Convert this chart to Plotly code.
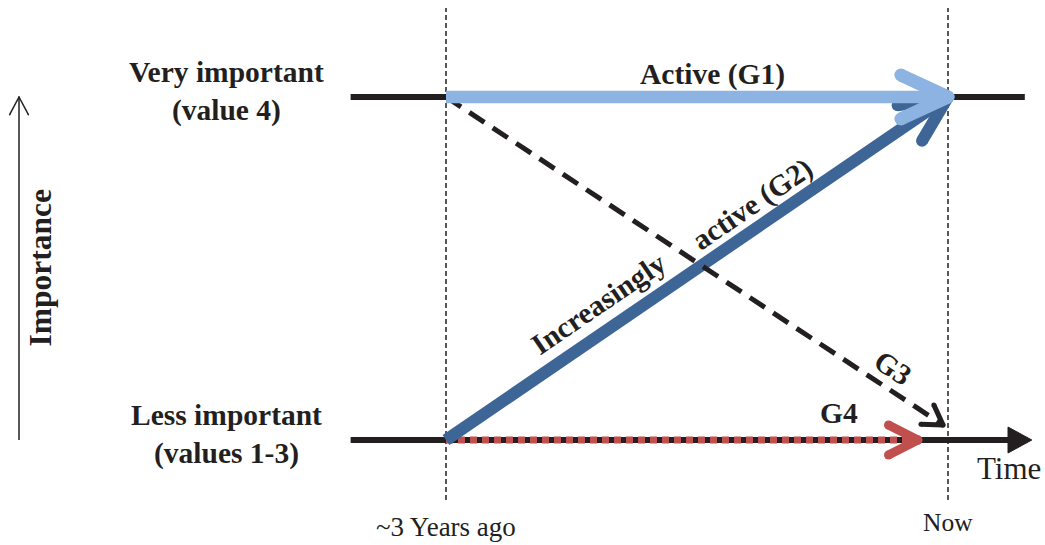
import math
import plotly.graph_objects as go

# ---------------- data ----------------
time_labels = ["~3 Years ago", "Now"]
time_values = [0, 1]
level_labels = ["Very important<br>(value 4)", "Less important<br>(values 1-3)"]
level_values = [1, 0]
group_names = ["G1", "G2", "G3", "G4"]
group_start_level = [1, 0, 1, 0]        # importance ~3 years ago
group_end_level = [1, 1, 0.044, 0]      # importance now
group_end_time = [1, 1, 0.99, 0.94]
axis_start = -0.19
axis_end = 1.167
top_line_end = 1.153

# ---------------- styles ----------------
W, H = 1045, 545
PX0, PX1 = 446, 948      # pixel x of time 0 / 1
PY0, PY1 = 440, 97       # pixel y of level 0 / 1
SX, SY = PX1 - PX0, PY0 - PY1
BLACK = "#231F20"
C_G1 = "#8DB3E2"
C_G2 = "#3D6596"
C_G4 = "#C0504D"
SERIF = "Liberation Serif, Times New Roman, serif"


def to_px(x, y):
    return PX0 + x * SX, PY0 - y * SY


def from_px(px, py):
    return (px - PX0) / SX, (PY0 - py) / SY


def chevron(tip, tail, length, half_angle_deg):
    """Return (xs, ys) of two arm segments of an open arrowhead at tip."""
    tx, ty = to_px(*tip)
    bx, by = to_px(*tail)
    ang = math.atan2(by - ty, bx - tx)
    xs, ys = [], []
    for s in (1, -1):
        a = ang + s * math.radians(half_angle_deg)
        ex, ey = tx + length * math.cos(a), ty + length * math.sin(a)
        dx0, dy0 = from_px(ex, ey)
        xs += [dx0, tip[0], None]
        ys += [dy0, tip[1], None]
    return xs, ys


fig = go.Figure()


def add_line(xs, ys, color, width, dash="solid"):
    fig.add_trace(go.Scatter(x=xs, y=ys, mode="lines",
                             line=dict(color=color, width=width, dash=dash),
                             hoverinfo="skip", showlegend=False))


def add_chevron(tip, tail, color, width, length, half):
    xs, ys = chevron(tip, tail, length, half)
    add_line(xs, ys, color, width)
    mx = [v for v in xs if v is not None]
    my = [v for v in ys if v is not None]
    fig.add_trace(go.Scatter(x=mx, y=my, mode="markers",
                             marker=dict(color=color, size=width, line=dict(width=0)),
                             hoverinfo="skip", showlegend=False))


# vertical dashed time markers
ytop = from_px(0, 8)[1]
ybot = from_px(0, 500)[1]
for t in time_values:
    add_line([t, t], [ybot, ytop], BLACK, 1.5, "5px,3px")

# level lines
add_line([axis_start, time_values[0]], [level_values[0]] * 2, BLACK, 6)
add_line([time_values[1], top_line_end], [level_values[0]] * 2, BLACK, 6)
arrow_base = from_px(1008, 0)[0]
add_line([axis_start, arrow_base], [level_values[1]] * 2, BLACK, 6)
# time arrowhead (filled)
tipx = axis_end
hb = 13 / SY
fig.add_trace(go.Scatter(x=[arrow_base, tipx, arrow_base, arrow_base],
                         y=[hb, 0, -hb, hb], mode="lines", fill="toself",
                         fillcolor=BLACK, line=dict(color=BLACK, width=1),
                         hoverinfo="skip", showlegend=False))

# G4 red dotted
add_line([time_values[0], group_end_time[3]], [group_start_level[3], group_end_level[3]], C_G4, 7, "7px,5px")
add_chevron((group_end_time[3], group_end_level[3]), (0, group_start_level[3]), C_G4, 9, 33, 27)

# G2 dark blue
add_line([time_values[0], group_end_time[1]], [group_start_level[1], group_end_level[1]], C_G2, 12)
add_chevron((group_end_time[1], group_end_level[1]), (0, group_start_level[1]), C_G2, 12, 51, 25)

# G3 dashed black
add_line([time_values[0], group_end_time[2]], [group_start_level[2], group_end_level[2]], BLACK, 5, "18px,10px")
add_chevron((group_end_time[2], group_end_level[2]), (0, group_start_level[2]), BLACK, 5, 22, 32)

# G1 light blue
add_line([time_values[0], group_end_time[0]], [group_start_level[0], group_end_level[0]], C_G1, 12.5)
add_chevron((group_end_time[0], group_end_level[0]), (0, group_start_level[0]), C_G1, 13, 52, 25)

# importance arrow (thin)
ix = from_px(19, 0)[0]
add_line([ix, ix], [level_values[1], level_values[0]], BLACK, 1.5)
add_chevron((ix, level_values[0]), (ix, level_values[1]), BLACK, 1.5, 20, 28)

# ---------------- text ----------------
BF = 29.5
ann = []
lab_x = from_px(226, 0)[0]
for lab, lv in zip(level_labels, level_values):
    ann.append(dict(x=lab_x, y=lv + 5.5 / SY, text="<b>" + lab + "</b>", showarrow=False,
                    font=dict(size=BF, color=BLACK, family=SERIF), xanchor="center",
                    yanchor="middle", align="center"))
ann.append(dict(x=from_px(40, 0)[0], y=0.5, text="<b>Importance</b>", textangle=-90,
                showarrow=False, font=dict(size=31.5, color=BLACK, family=SERIF)))

g2_ang = math.degrees(math.atan2(SY * (group_end_level[1] - group_start_level[1]),
                                 SX * (group_end_time[1] - time_values[0])))
g3_ang = math.degrees(math.atan2(SY * (group_start_level[2] - group_end_level[2]),
                                 SX * (group_end_time[2] - time_values[0])))

ann.append(dict(x=from_px(712, 0)[0], y=from_px(0, 74)[1], text="<b>Active (G1)</b>",
                showarrow=False, font=dict(size=BF, color=BLACK, family=SERIF)))
ann.append(dict(x=from_px(598, 0)[0], y=from_px(0, 304)[1], text="<b>Increasingly</b>",
                textangle=-g2_ang, showarrow=False,
                font=dict(size=BF, color=BLACK, family=SERIF)))
ann.append(dict(x=from_px(752, 0)[0], y=from_px(0, 204)[1], text="<b>active (G2)</b>",
                textangle=-g2_ang, showarrow=False,
                font=dict(size=BF, color=BLACK, family=SERIF)))
ann.append(dict(x=from_px(893, 0)[0], y=from_px(0, 368)[1], text="<b>G3</b>",
                textangle=g3_ang, showarrow=False,
                font=dict(size=BF, color=BLACK, family=SERIF)))
ann.append(dict(x=from_px(839, 0)[0], y=from_px(0, 413)[1], text="<b>G4</b>",
                showarrow=False, font=dict(size=BF, color=BLACK, family=SERIF)))
ann.append(dict(x=from_px(1009, 0)[0], y=from_px(0, 468)[1], text="Time",
                showarrow=False, font=dict(size=31, color=BLACK, family=SERIF)))
ann.append(dict(x=time_values[0], y=from_px(0, 527)[1], text=time_labels[0],
                showarrow=False, font=dict(size=27, color=BLACK, family=SERIF)))
ann.append(dict(x=time_values[1], y=from_px(0, 522)[1], text=time_labels[1],
                showarrow=False, font=dict(size=25.5, color=BLACK, family=SERIF)))

fig.update_layout(
    width=W, height=H, autosize=False,
    margin=dict(l=0, r=0, t=0, b=0),
    paper_bgcolor="white", plot_bgcolor="white",
    xaxis=dict(range=[(0 - PX0) / SX, (W - PX0) / SX], visible=False, fixedrange=True),
    yaxis=dict(range=[(PY0 - H) / SY, PY0 / SY], visible=False, fixedrange=True),
    annotations=ann,
    showlegend=False,
)

fig.write_html(
    "out.html",
    config={"displayModeBar": False},
    post_script="document.body.style.margin='0';document.body.style.overflow='hidden';",
)
